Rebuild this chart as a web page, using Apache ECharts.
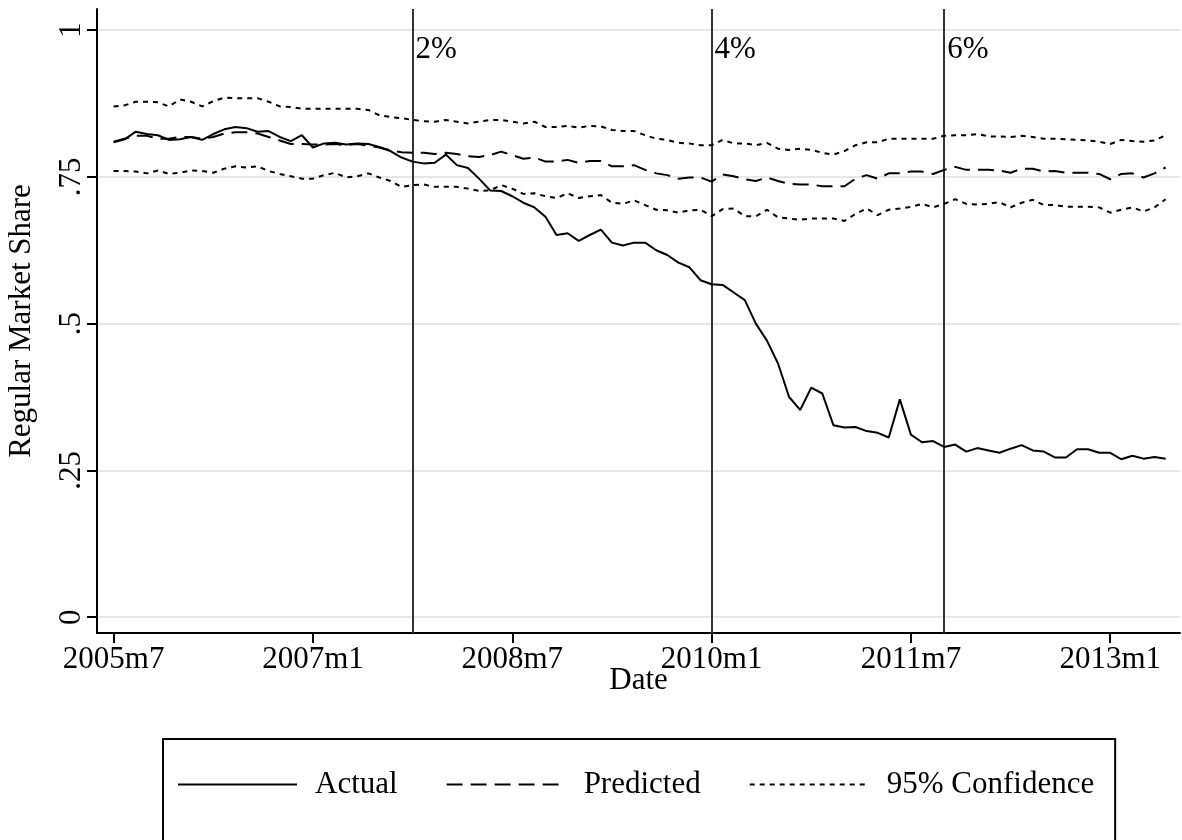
<!DOCTYPE html>
<html>
<head>
<meta charset="utf-8">
<script src="https://cdn.jsdelivr.net/npm/echarts@6/dist/echarts.min.js"></script>
<style>
html, body { margin: 0; background: #fff; }
#chart { width: 1182px; height: 840px; }
</style>
</head>
<body>
<div id="chart"></div>
<script>
// months counted from 2005m7 (0) to 2013m6 (95)
var tickMonths = [0, 18, 36, 54, 72, 90];
var tickLabels = ['2005m7', '2007m1', '2008m7', '2010m1', '2011m7', '2013m1'];
var yTicks = [0, 0.25, 0.5, 0.75, 1];
var yTickLabels = ['0', '.25', '.5', '.75', '1'];
var policyMonths = [27, 54, 75];
var policyLabels = ['2%', '4%', '6%'];

var actual = [
    0.809, 0.814, 0.827, 0.823, 0.821, 0.813, 0.814, 0.818, 0.813, 0.823, 0.831, 0.835,
    0.833, 0.827, 0.828, 0.818, 0.811, 0.821, 0.800, 0.807, 0.808, 0.805, 0.807, 0.806,
    0.801, 0.794, 0.783, 0.776, 0.773, 0.774, 0.788, 0.770, 0.765, 0.747, 0.727, 0.726,
    0.717, 0.706, 0.698, 0.682, 0.651, 0.654, 0.641, 0.651, 0.660, 0.638, 0.633, 0.638,
    0.638, 0.625, 0.617, 0.604, 0.596, 0.574, 0.567, 0.566, 0.553, 0.540, 0.500, 0.471,
    0.432, 0.375, 0.353, 0.391, 0.381, 0.327, 0.323, 0.324, 0.317, 0.314, 0.306, 0.371,
    0.311, 0.298, 0.300, 0.290, 0.294, 0.282, 0.288, 0.284, 0.280, 0.287, 0.293, 0.284,
    0.282, 0.272, 0.272, 0.286, 0.286, 0.280, 0.280, 0.269, 0.275, 0.270, 0.273, 0.270
];
var predicted = [
    0.810, 0.815, 0.820, 0.820, 0.815, 0.815, 0.818, 0.818, 0.815, 0.818, 0.824, 0.826,
    0.826, 0.824, 0.818, 0.812, 0.806, 0.806, 0.805, 0.805, 0.806, 0.804, 0.806, 0.803,
    0.800, 0.795, 0.792, 0.791, 0.791, 0.789, 0.791, 0.789, 0.785, 0.784, 0.787, 0.793,
    0.787, 0.781, 0.783, 0.776, 0.776, 0.779, 0.774, 0.777, 0.777, 0.768, 0.768, 0.770,
    0.762, 0.756, 0.753, 0.747, 0.749, 0.749, 0.742, 0.754, 0.751, 0.746, 0.743, 0.749,
    0.743, 0.738, 0.737, 0.737, 0.734, 0.734, 0.734, 0.747, 0.753, 0.747, 0.756, 0.756,
    0.759, 0.759, 0.755, 0.762, 0.767, 0.762, 0.762, 0.762, 0.761, 0.757, 0.764, 0.764,
    0.759, 0.760, 0.757, 0.757, 0.757, 0.755, 0.746, 0.755, 0.756, 0.749, 0.756, 0.766
];
var upper = [
    0.870, 0.872, 0.878, 0.878, 0.877, 0.870, 0.882, 0.878, 0.870, 0.879, 0.885, 0.884,
    0.884, 0.884, 0.878, 0.870, 0.869, 0.866, 0.866, 0.866, 0.866, 0.866, 0.866, 0.864,
    0.855, 0.852, 0.850, 0.847, 0.845, 0.844, 0.847, 0.844, 0.841, 0.844, 0.847, 0.847,
    0.844, 0.841, 0.844, 0.835, 0.835, 0.837, 0.834, 0.837, 0.836, 0.830, 0.828, 0.828,
    0.821, 0.815, 0.813, 0.808, 0.807, 0.804, 0.804, 0.813, 0.807, 0.807, 0.804, 0.808,
    0.798, 0.796, 0.798, 0.796, 0.791, 0.788, 0.794, 0.804, 0.809, 0.809, 0.815, 0.815,
    0.815, 0.815, 0.815, 0.820, 0.821, 0.821, 0.823, 0.819, 0.819, 0.818, 0.820, 0.818,
    0.815, 0.815, 0.814, 0.813, 0.812, 0.810, 0.806, 0.813, 0.811, 0.810, 0.812, 0.821
];
var lower = [
    0.760, 0.760, 0.759, 0.756, 0.761, 0.755, 0.757, 0.761, 0.760, 0.757, 0.764, 0.768,
    0.766, 0.768, 0.760, 0.755, 0.751, 0.747, 0.747, 0.753, 0.757, 0.749, 0.751, 0.756,
    0.749, 0.743, 0.733, 0.736, 0.737, 0.733, 0.733, 0.733, 0.730, 0.726, 0.727, 0.736,
    0.730, 0.721, 0.722, 0.717, 0.714, 0.722, 0.714, 0.717, 0.719, 0.706, 0.704, 0.710,
    0.702, 0.694, 0.693, 0.689, 0.693, 0.694, 0.683, 0.695, 0.696, 0.683, 0.683, 0.694,
    0.681, 0.679, 0.677, 0.679, 0.679, 0.679, 0.675, 0.687, 0.696, 0.685, 0.694, 0.696,
    0.699, 0.704, 0.698, 0.704, 0.712, 0.704, 0.703, 0.704, 0.707, 0.698, 0.706, 0.711,
    0.702, 0.702, 0.699, 0.699, 0.699, 0.698, 0.689, 0.694, 0.698, 0.691, 0.698, 0.712
];

var font = '"Liberation Serif", "Times New Roman", serif';

function pairs(arr) {
    return arr.map(function (v, i) { return [i, v]; });
}

function lineSeries(name, data, dash) {
    return {
        name: name,
        type: 'line',
        symbol: 'none',
        data: pairs(data),
        lineStyle: { color: '#000', width: 2, type: dash },
        itemStyle: { color: '#000' },
        z: 5
    };
}

var opts = {
    animation: false,
    backgroundColor: '#fff',
    grid: { left: 97, right: 2, top: 9, bottom: 207, outerBoundsMode: 'none', containLabel: false },
    legend: {
        data: ['Actual', 'Predicted', '95% Confidence'],
        left: 163,
        top: 739,
        itemWidth: 119,
        itemHeight: 14,
        itemGap: 48,
        selectedMode: false,
        itemStyle: { opacity: 0 },
        borderColor: '#000',
        borderWidth: 2,
        borderRadius: 0,
        padding: [30, 21, 80, 14],
        textStyle: { fontFamily: font, fontSize: 31, color: '#000', padding: [0, 0, 0, 13] }
    },
    xAxis: {
        type: 'value',
        min: -1.5,
        max: 96.3,
        name: 'Date',
        nameLocation: 'middle',
        nameGap: 32,
        nameMoveOverlap: false,
        nameTextStyle: { fontFamily: font, fontSize: 31, color: '#000' },
        axisLine: { onZero: false, lineStyle: { color: '#000', width: 2 } },
        axisTick: { customValues: tickMonths, length: 10, lineStyle: { color: '#000', width: 2 } },
        axisLabel: {
            customValues: tickMonths,
            margin: 11,
            fontFamily: font, fontSize: 31, color: '#000',
            formatter: function (v) { return tickLabels[tickMonths.indexOf(v)]; }
        },
        splitLine: { show: false }
    },
    yAxis: {
        type: 'value',
        min: -0.027,
        max: 1.036,
        name: 'Regular Market Share',
        nameLocation: 'middle',
        nameGap: 60,
        nameRotate: 90,
        nameMoveOverlap: false,
        nameTextStyle: { fontFamily: font, fontSize: 31, color: '#000' },
        axisLine: { show: true, onZero: false, lineStyle: { color: '#000', width: 2 } },
        axisTick: { show: true, customValues: yTicks, length: 10, lineStyle: { color: '#000', width: 2 } },
        axisLabel: {
            customValues: yTicks,
            rotate: 90,
            margin: 10,
            fontFamily: font, fontSize: 31, color: '#000',
            formatter: function (v) { return yTickLabels[yTicks.indexOf(v)]; }
        },
        splitLine: { show: true, lineStyle: { color: '#e6e6e6', width: 2 } }
    },
    series: [
        lineSeries('95% Confidence', upper, [5, 5]),
        lineSeries('95% Confidence', lower, [5, 5]),
        lineSeries('Predicted', predicted, [16, 8]),
        lineSeries('Actual', actual, 'solid'),
        {
            name: 'policy',
            type: 'scatter',
            symbolSize: 0,
            silent: true,
            itemStyle: { opacity: 1 },
            data: policyMonths.map(function (m, i) { return [m, 0.966, policyLabels[i]]; }),
            label: {
                show: true,
                position: 'right',
                distance: 3,
                fontFamily: font, fontSize: 31, color: '#000',
                formatter: function (p) { return p.value[2]; }
            },
            markLine: {
                silent: true,
                symbol: 'none',
                label: { show: false },
                lineStyle: { color: '#333', width: 2, type: 'solid' },
                data: policyMonths.map(function (m) { return { xAxis: m }; })
            }
        }
    ]
};

echarts.init(document.getElementById('chart')).setOption(opts);
</script>
</body>
</html>
